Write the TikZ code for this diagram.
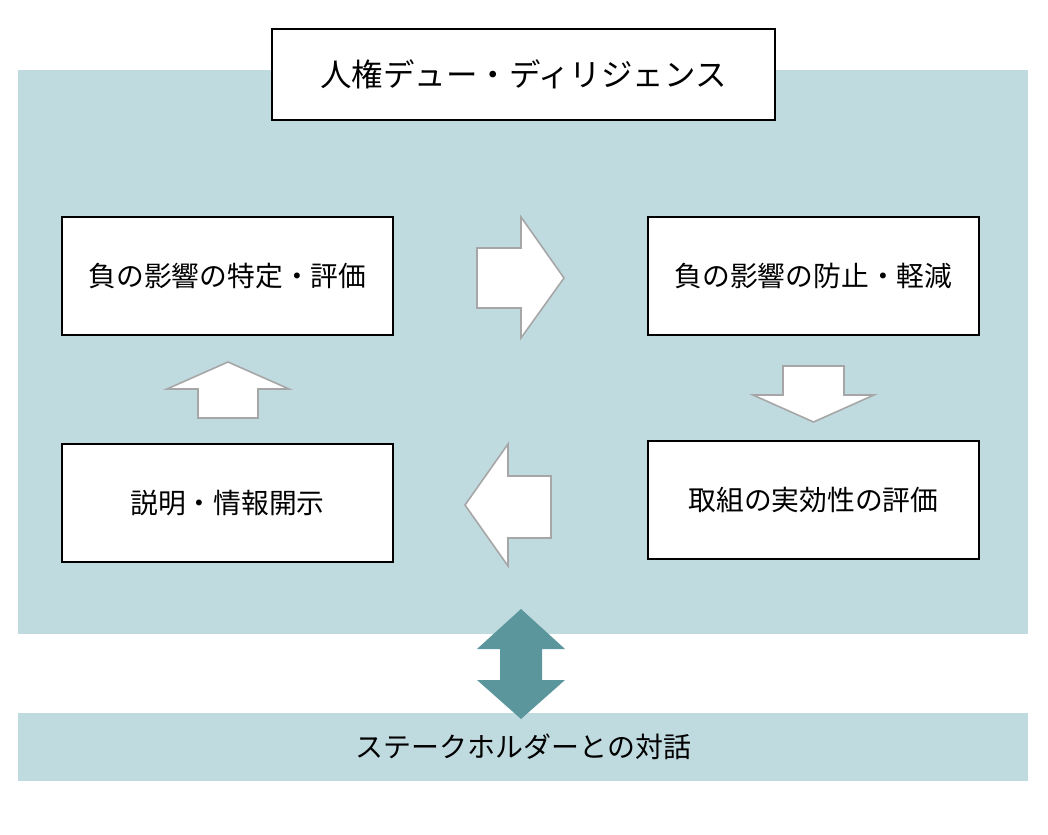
\documentclass[tikz,border=0pt]{standalone}
\usepackage{fontspec}
\setmainfont{Noto Sans CJK JP}
\usepackage{xcolor}
\usetikzlibrary{positioning}

\definecolor{bgblue}{HTML}{C0DBE0}
\definecolor{darkteal}{HTML}{5B969C}
\definecolor{arrowgray}{HTML}{A6A6A6}

\begin{document}
\begin{tikzpicture}[
    stepbox/.style={draw, line width=0.9pt, fill=white, minimum width=6.62cm, minimum height=2.36cm, align=center, font=\fontsize{15.8}{18}\selectfont},
    blockarrow/.style={draw=arrowgray, line width=0.9pt, fill=white, line join=miter}
]
    \useasboundingbox (0,0) rectangle (20.96,16.68);

    % Background panels
    \fill[bgblue] (0.36,4.0) rectangle (20.56,15.28);
    \fill[bgblue] (0.36,1.06) rectangle (20.56,2.42);

    % Title
    \node[draw, line width=0.9pt, fill=white, minimum width=10.06cm, minimum height=1.82cm, font=\fontsize{17.9}{21}\selectfont] (title) at (10.47, 15.19) {人権デュー・ディリジェンス};

    % Steps
    \node[stepbox] (identify) at (4.55, 11.16) {負の影響の特定・評価};
    \node[stepbox] (prevent) at (16.27, 11.16) {負の影響の防止・軽減};
    \node[stepbox] (track) at (16.27, 6.68) {取組の実効性の評価};
    \node[stepbox] (disclose) at (4.55, 6.62) {説明・情報開示};

    % Block arrows
    \draw[blockarrow] (9.54,11.72) -- (10.42,11.72) -- (10.42,12.34) -- (11.28,11.12) -- (10.42,9.92) -- (10.42,10.52) -- (9.54,10.52) -- cycle;
    \draw[blockarrow] (15.66,9.36) -- (16.88,9.36) -- (16.88,8.78) -- (17.48,8.78) -- (16.27,8.24) -- (15.06,8.78) -- (15.66,8.78) -- cycle;
    \draw[blockarrow] (11.02,7.16) -- (10.16,7.16) -- (10.16,7.80) -- (9.30,6.58) -- (10.16,5.36) -- (10.16,5.92) -- (11.02,5.92) -- cycle;
    \draw[blockarrow] (3.96,8.32) -- (5.16,8.32) -- (5.16,8.90) -- (5.78,8.90) -- (4.56,9.44) -- (3.34,8.90) -- (3.96,8.90) -- cycle;

    % Dialogue arrow
    \fill[darkteal] (10.42,4.50) -- (11.30,3.70) -- (10.84,3.70) -- (10.84,3.08) -- (11.30,3.08) -- (10.42,2.30) -- (9.54,3.08) -- (10.0,3.08) -- (10.0,3.70) -- (9.54,3.70) -- cycle;

    % Stakeholders
    \node[font=\fontsize{15.9}{18}\selectfont] (dialogue) at (10.47, 1.74) {ステークホルダーとの対話};
\end{tikzpicture}
\end{document}
